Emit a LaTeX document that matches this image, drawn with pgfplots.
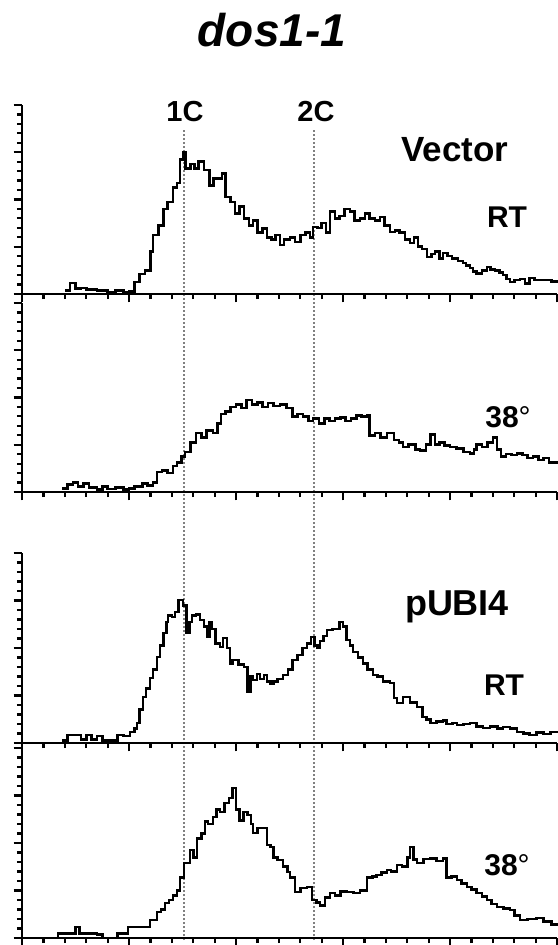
\documentclass[border=0pt]{standalone}
\usepackage{fontspec}
\setmainfont{Liberation Sans}
\usepackage{pgfplots}
\pgfplotsset{compat=1.18}

% one histogram panel: channels 0..1000, counts 0..4
\pgfplotsset{
  panel/.style={
    at={#1}, anchor=south west,
    scale only axis, width=267.5pt, height=94.5pt,
    xmin=0, xmax=1000, ymin=0, ymax=4,
    axis x line*=bottom, axis y line*=left,
    axis line style={-, line width=1.3pt},
    xtick={0,200,...,1000}, minor x tick num=4,
    ytick={0,1,2,3,4}, minor y tick num=4,
    xticklabels={}, yticklabels={},
    tick align=outside,
    major tick length=4.2pt, minor tick length=2.6pt,
    tick style={black, line width=1.1pt},
    clip=false,
  },
  hist/.style={const plot, black, line width=1.3pt, mark=none},
}

\begin{document}
\begin{tikzpicture}[x=0.5pt, y=-0.5pt]
\useasboundingbox (0,0) rectangle (557,945);

% 1C / 2C reference lines
\begin{axis}[at={(11pt,-470pt)}, anchor=south west, scale only axis,
  width=267.5pt, height=405pt, xmin=0, xmax=1000, ymin=0, ymax=1, hide axis]
\addplot[gray, densely dotted, line width=1pt] coordinates {(302,0) (302,1)};
\addplot[gray, densely dotted, line width=1pt] coordinates {(545,0) (545,1)};
\end{axis}

% Vector, RT
\begin{axis}[panel={(11pt,-147pt)}]
\addplot[hist] coordinates {
(80,0.08) (90,0.23) (100,0.12) (110,0.13) (120,0.10) (140,0.08) (160,0.03) (175,0.08)
(190,0.04) (200,0.05) (210,0.25) (220,0.42) (230,0.50) (240,0.90) (245,1.25) (255,1.45)
(264,1.80) (272,1.95) (282,2.25) (290,2.35) (295,2.85) (301,3.00) (306,2.65) (315,2.75)
(322,2.65) (330,2.80) (340,2.62) (350,2.30) (358,2.45) (366,2.45) (374,2.55) (380,2.05)
(390,1.95) (398,1.70) (406,1.85) (415,1.60) (424,1.45) (432,1.55) (440,1.30) (450,1.38)
(458,1.20) (466,1.15) (474,1.25) (482,1.04) (490,1.15) (501,1.20) (510,1.10) (520,1.25)
(530,1.30) (538,1.20) (544,1.42) (552,1.40) (560,1.50) (568,1.30) (576,1.74) (585,1.60)
(594,1.65) (603,1.80) (613,1.74) (622,1.55) (632,1.60) (641,1.70) (650,1.60) (660,1.55)
(669,1.63) (678,1.45) (688,1.31) (697,1.35) (706,1.30) (716,1.15) (725,1.08) (733,1.20)
(740,1.00) (748,0.95) (757,0.78) (765,0.85) (772,0.90) (780,0.75) (787,0.87) (795,0.80)
(804,0.75) (815,0.70) (824,0.66) (830,0.60) (837,0.55) (843,0.48) (850,0.44) (860,0.50)
(869,0.57) (876,0.52) (884,0.50) (892,0.45) (899,0.40) (906,0.32) (912,0.25) (920,0.30)
(931,0.32) (940,0.22) (949,0.34) (958,0.30) (968,0.30) (980,0.30) (990,0.26) (1000,0.30)
};
\end{axis}

% Vector, 38
\begin{axis}[panel={(11pt,-246pt)}]
\addplot[hist] coordinates {
(75,0.08) (85,0.16) (95,0.20) (105,0.12) (115,0.18) (125,0.10) (140,0.05) (150,0.12)
(160,0.06) (175,0.10) (190,0.05) (200,0.08) (210,0.12) (225,0.18) (235,0.14) (245,0.20)
(252,0.42) (262,0.45) (272,0.40) (282,0.55) (290,0.62) (298,0.75) (305,0.85) (315,1.05)
(325,1.25) (335,1.15) (345,1.30) (357,1.25) (365,1.45) (372,1.65) (380,1.70) (390,1.80)
(400,1.85) (410,1.78) (420,1.95) (430,1.85) (440,1.90) (450,1.80) (460,1.88) (470,1.82)
(482,1.85) (494,1.78) (506,1.60) (515,1.65) (525,1.60) (535,1.50) (544,1.55) (555,1.45)
(565,1.55) (575,1.50) (585,1.55) (595,1.58) (605,1.50) (615,1.55) (625,1.62) (635,1.60)
(645,1.62) (650,1.20) (660,1.25) (670,1.15) (682,1.25) (695,1.10) (705,1.05) (712,0.95)
(722,1.00) (735,0.90) (744,0.88) (755,1.00) (763,1.22) (772,1.00) (780,1.05) (790,0.98)
(800,0.95) (812,0.92) (825,0.85) (837,0.82) (845,0.90) (850,1.00) (860,0.95) (870,1.05)
(880,1.15) (888,0.90) (895,0.75) (905,0.80) (915,0.78) (925,0.82) (935,0.78) (945,0.72)
(955,0.75) (965,0.68) (975,0.72) (985,0.62) (1000,0.65)
};
\end{axis}

% pUBI4, RT
\begin{axis}[panel={(11pt,-371.5pt)}, height=95pt]
\addplot[hist] coordinates {
(75,0.05) (85,0.17) (100,0.17) (110,0.08) (120,0.17) (130,0.08) (140,0.15) (150,0.05)
(165,0.05) (178,0.17) (190,0.15) (202,0.23) (210,0.30) (215,0.42) (220,0.70) (226,0.97)
(232,1.15) (239,1.37) (245,1.55) (252,1.81) (258,2.05) (264,2.32) (270,2.55) (273,2.69)
(280,2.65) (286,2.76) (292,3.01) (301,2.90) (308,2.32) (313,2.55) (318,2.69) (325,2.70)
(333,2.59) (340,2.45) (346,2.23) (350,2.55) (355,2.40) (362,2.10) (370,2.02) (376,2.21)
(383,2.00) (389,1.68) (394,1.75) (405,1.65) (415,1.60) (421,1.07) (427,1.40) (432,1.33)
(439,1.45) (445,1.35) (452,1.43) (458,1.30) (464,1.25) (470,1.30) (478,1.35) (488,1.43)
(497,1.55) (506,1.75) (515,1.85) (524,2.00) (533,2.10) (540,2.23) (547,2.05) (552,2.00)
(557,2.15) (563,2.25) (570,2.38) (580,2.40) (594,2.55) (600,2.45) (607,2.17) (613,2.05)
(619,1.92) (628,1.80) (637,1.68) (646,1.55) (656,1.43) (665,1.40) (675,1.30) (688,1.26)
(695,0.95) (701,0.84) (712,0.97) (725,0.85) (738,0.76) (749,0.55) (756,0.50) (763,0.42)
(775,0.45) (787,0.48) (794,0.40) (805,0.42) (813,0.38) (825,0.40) (837,0.42) (850,0.35)
(862,0.32) (875,0.35) (889,0.30) (899,0.34) (912,0.30) (925,0.23) (937,0.20) (949,0.17)
(962,0.22) (975,0.19) (988,0.23) (1000,0.21)
};
\end{axis}

% pUBI4, 38
\begin{axis}[panel={(11pt,-469pt)}, height=95pt]
\addplot[hist] coordinates {
(0,0.00) (67,0.10) (90,0.10) (100,0.23) (108,0.10) (125,0.10) (140,0.08) (151,0.00)
(170,0.00) (179,0.10) (198,0.23) (215,0.23) (226,0.23) (239,0.38) (252,0.55) (260,0.60)
(267,0.74) (275,0.80) (282,0.90) (290,1.00) (295,1.28) (303,1.58) (314,1.85) (320,1.70)
(327,2.10) (336,2.20) (342,2.45) (348,2.40) (357,2.55) (364,2.70) (370,2.65) (379,2.84)
(387,2.95) (394,3.16) (400,2.70) (407,2.48) (414,2.65) (421,2.59) (428,2.40) (432,2.21)
(440,2.32) (450,2.32) (458,1.96) (464,1.92) (470,1.70) (477,1.64) (488,1.50) (496,1.39)
(501,1.28) (510,0.97) (520,1.05) (533,1.07) (542,0.80) (550,0.75) (557,0.69) (566,0.85)
(576,0.95) (585,0.90) (595,0.98) (607,0.97) (620,0.95) (632,1.00) (645,1.28) (655,1.30)
(663,1.33) (672,1.38) (682,1.43) (690,1.40) (701,1.54) (710,1.50) (720,1.70) (725,1.92)
(732,1.65) (738,1.58) (750,1.66) (763,1.68) (775,1.62) (787,1.68) (794,1.28) (803,1.30)
(813,1.22) (822,1.15) (832,1.07) (840,1.02) (850,0.95) (860,0.88) (869,0.80) (878,0.72)
(888,0.65) (900,0.62) (912,0.59) (920,0.48) (931,0.38) (945,0.40) (962,0.42) (975,0.35)
(990,0.28) (1000,0.27)
};
\end{axis}

% labels
\node[anchor=base, font=\fontsize{23}{26}\selectfont\bfseries\itshape] at (272,47) {dos1-1};
\node[anchor=base, font=\fontsize{14.5}{17}\selectfont\bfseries] at (185,122) {1C};
\node[anchor=base, font=\fontsize{14.5}{17}\selectfont\bfseries] at (316,122) {2C};
\node[anchor=base, font=\fontsize{17.5}{20}\selectfont\bfseries] at (455,162) {Vector};
\node[anchor=base, font=\fontsize{15}{18}\selectfont\bfseries] at (507,228) {RT};
\node[anchor=base, font=\fontsize{15}{18}\selectfont\bfseries] at (508,428) {38\mdseries°};
\node[anchor=base, font=\fontsize{18}{21}\selectfont\bfseries] at (457,615) {pUBI4};
\node[anchor=base, font=\fontsize{15}{18}\selectfont\bfseries] at (504,695) {RT};
\node[anchor=base, font=\fontsize{15}{18}\selectfont\bfseries] at (507,875) {38\mdseries°};
\end{tikzpicture}
\end{document}
